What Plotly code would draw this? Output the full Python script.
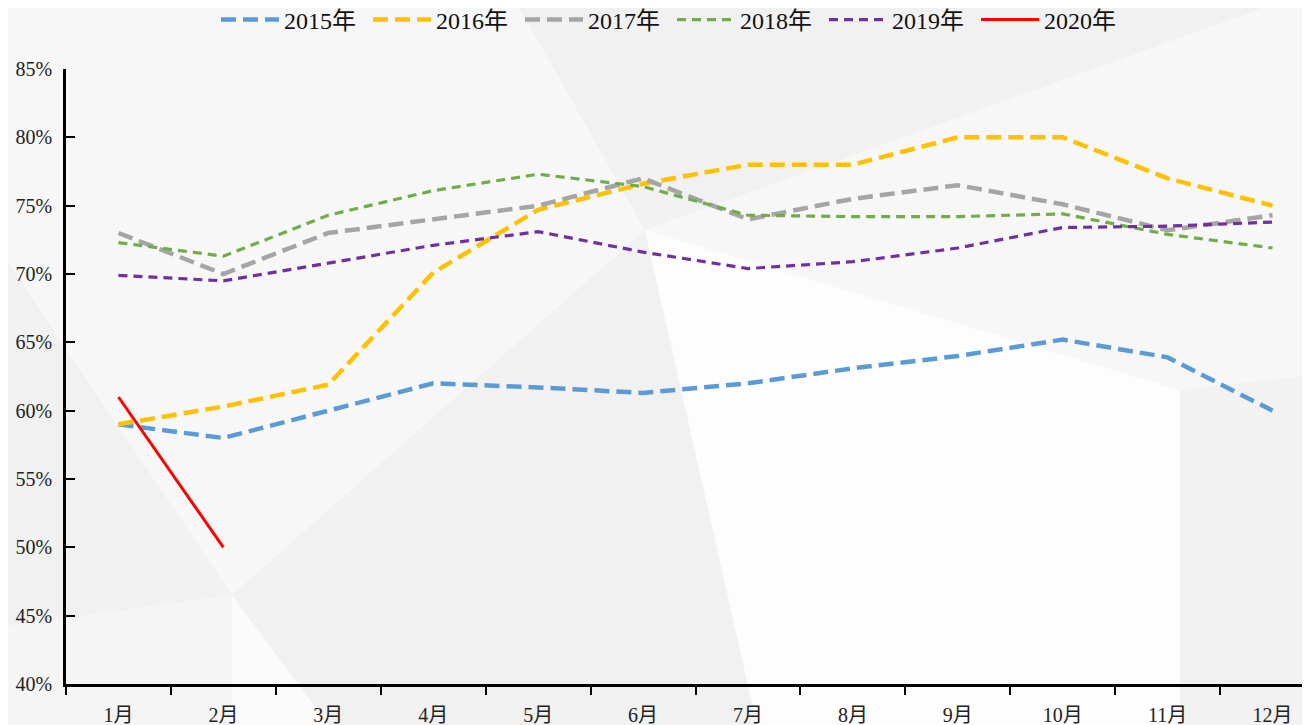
import plotly.graph_objects as go

months = ["1月", "2月", "3月", "4月", "5月", "6月", "7月", "8月", "9月", "10月", "11月", "12月"]
y2015 = [59.0, 58.0, 60.0, 62.0, 61.7, 61.3, 62.0, 63.1, 64.0, 65.2, 63.9, 60.0]
y2016 = [59.0, 60.3, 61.9, 70.1, 74.7, 76.6, 78.0, 78.0, 80.0, 80.0, 77.0, 75.0]
y2017 = [73.0, 70.0, 73.0, 74.0, 75.0, 77.0, 74.0, 75.5, 76.5, 75.1, 73.2, 74.3]
y2018 = [72.3, 71.3, 74.3, 76.1, 77.3, 76.4, 74.3, 74.2, 74.2, 74.4, 72.9, 71.9]
y2019 = [69.9, 69.5, 70.8, 72.1, 73.1, 71.6, 70.4, 70.9, 71.9, 73.4, 73.5, 73.8]
y2020 = [61.0, 50.0]

names = ["2015年", "2016年", "2017年", "2018年", "2019年", "2020年"]
series = [y2015, y2016, y2017, y2018, y2019, y2020]
colors = ["#5B9BD5", "#FFC000", "#A5A5A5", "#70AD47", "#7030A0", "#FF0000"]
widths = [4.5, 4.5, 4.5, 3.2, 3.2, 3]
dashes = ["15px,7px", "15px,7px", "15px,7px", "9px,6px", "9px,6px", "solid"]

FONT = "Liberation Serif, 'Noto Sans CJK SC', serif"
# page body has an 8px margin: the figure is drawn offset by (8, 8)
OX, OY = 8, 8
W, H = 1310 - OX, 725 - OY
# target plot area in viewport pixels
L, R, T, B = 66, 1310, 69, 684

fig = go.Figure()
for n, s, c, w, d in zip(names, series, colors, widths, dashes):
    fig.add_trace(go.Scatter(
        x=months[:len(s)], y=s, name=n, mode="lines",
        line=dict(color=c, width=w, dash=d),
    ))


def px2paper(pts):
    return [((px - L) / (R - L), (B - py) / (B - T)) for (px, py) in pts]


def poly(pts, color):
    pp = px2paper(pts)
    path = "M " + " L ".join(f"{x:.4f},{y:.4f}" for x, y in pp) + " Z"
    fig.add_shape(type="path", path=path, xref="paper", yref="paper",
                  fillcolor=color, line=dict(width=0), layer="below")


# decorative background polygons (viewport pixel coords)
poly([(515, 0), (1285, 0), (645, 230)], "#f1f1f1")
poly([(0, 250), (232, 595), (0, 627)], "#f1f1f1")
poly([(0, 627), (232, 595), (232, 725), (0, 725)], "#f5f5f5")
poly([(232, 595), (645, 230), (757, 725), (328, 725)], "#f1f1f1")
poly([(232, 595), (328, 725), (232, 725)], "#fbfbfb")
poly([(645, 230), (1180, 390), (1180, 725), (757, 725)], "#fdfdfd")
poly([(1180, 390), (1310, 375), (1310, 725), (1180, 725)], "#f2f2f2")

fig.update_layout(
    width=W, height=H,
    margin=dict(l=L - OX, r=0, t=T - OY, b=H - (B - OY), autoexpand=False),
    paper_bgcolor="#f7f7f7",
    plot_bgcolor="rgba(0,0,0,0)",
    font=dict(family=FONT, size=20, color="#222222"),
    showlegend=True,
    legend=dict(
        orientation="h", x=(672 - L) / (R - L), xanchor="center",
        y=(B - 20) / (B - T), yanchor="middle",
        font=dict(family=FONT, size=24, color="#111111"),
        bgcolor="rgba(0,0,0,0)", itemwidth=58, entrywidth=79, tracegroupgap=0,
    ),
    xaxis=dict(
        type="category", range=[-0.5, 11.357], tickson="boundaries",
        ticks="outside", ticklen=8, tickwidth=2, tickcolor="black",
        showline=True, linecolor="black", linewidth=2.5,
        showgrid=False, zeroline=False, ticklabelstandoff=11, automargin=False,
        tickfont=dict(family=FONT, size=20, color="#222222"),
    ),
    yaxis=dict(
        range=[40, 85], dtick=5, tick0=40, ticksuffix="%",
        ticks="inside", ticklen=9, tickwidth=2, tickcolor="black",
        showline=True, linecolor="black", linewidth=2.5,
        showgrid=False, zeroline=False, ticklabelstandoff=7, automargin=False,
        tickfont=dict(family=FONT, size=20, color="#222222"),
    ),
)

fig.write_html("out.html")
